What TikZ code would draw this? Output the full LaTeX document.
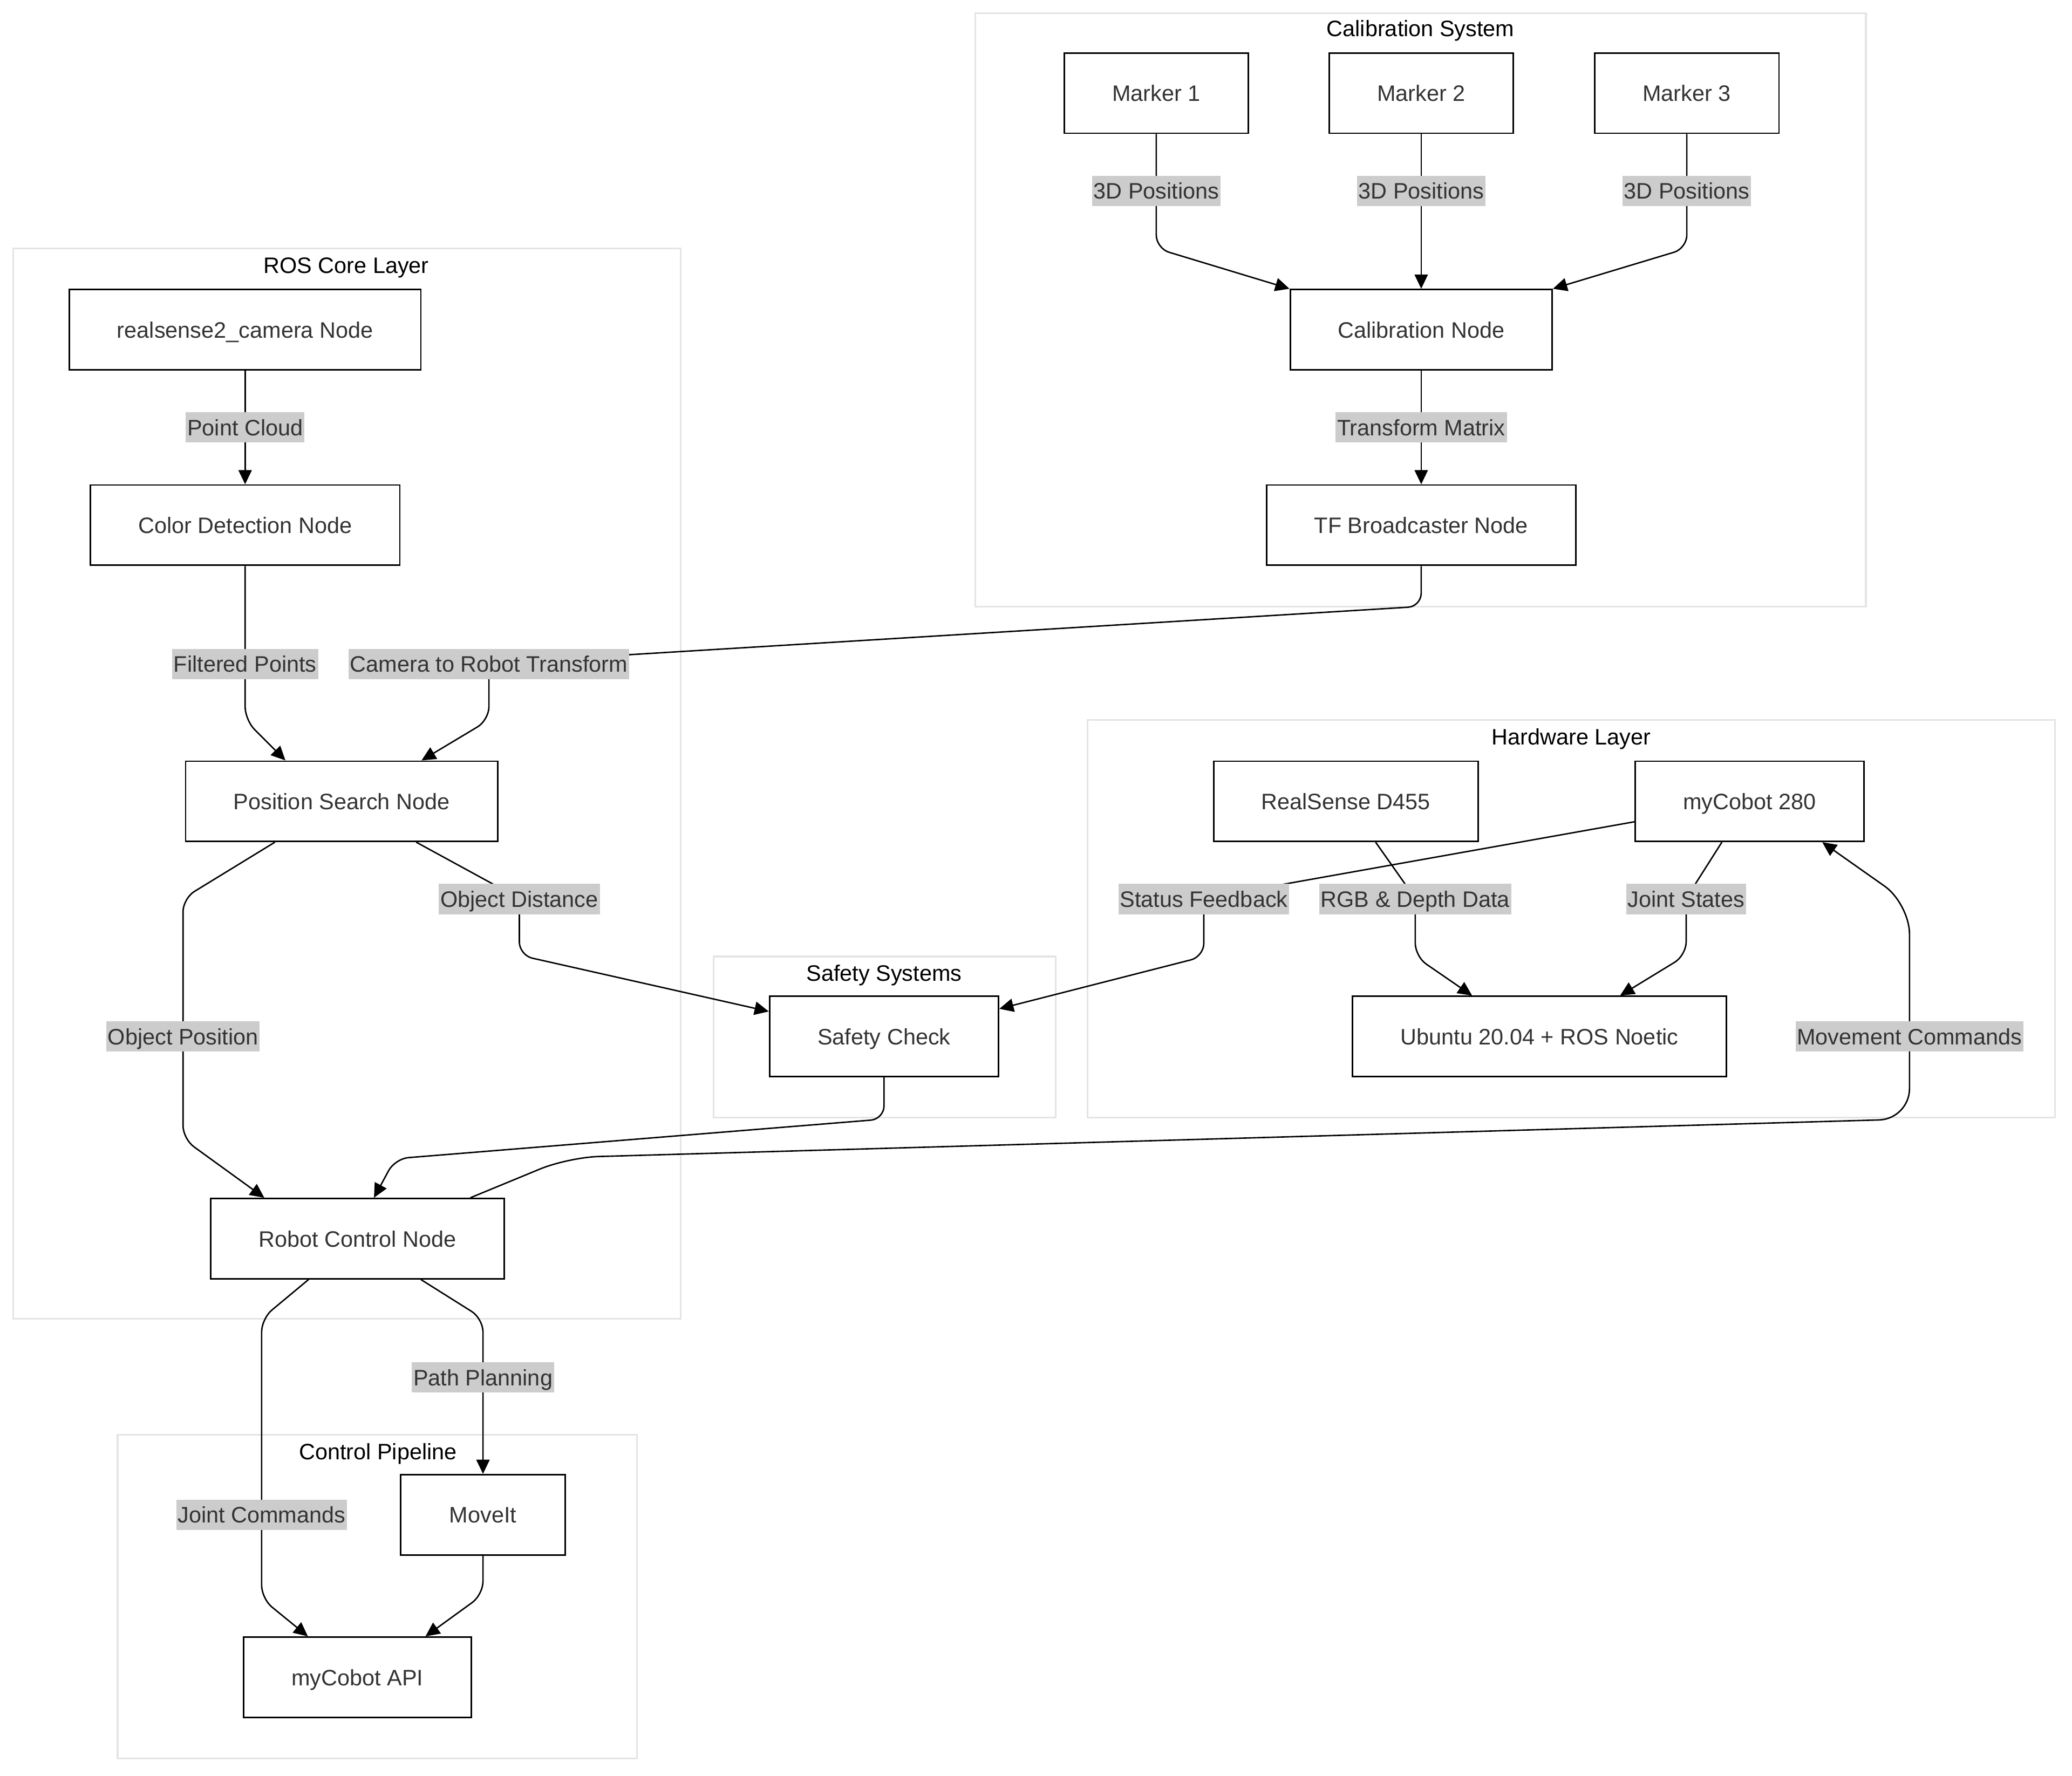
\documentclass[tikz,border=0pt]{standalone}
\usepackage{fontspec}
\setmainfont{Liberation Sans}
\usetikzlibrary{arrows.meta,calc}
\definecolor{txt}{HTML}{333333}
\definecolor{lblbg}{HTML}{CCCCCC}
\definecolor{clus}{HTML}{E4E4E4}
\tikzset{
  fnt/.style={font=\fontsize{11.8pt}{14pt}\selectfont, text height=9.8pt, text depth=1.2pt},
  box/.style={draw=black, line width=0.8pt, fill=white, fnt, text=txt, inner sep=0pt,
              minimum height=61*0.6945pt, minimum width=#1*0.6945pt},
  lbl/.style={fill=lblbg, fnt, text=txt, inner xsep=0.8pt, inner ysep=0pt,
              minimum height=16pt},
  ctitle/.style={fnt, text=black, inner sep=0pt},
  cluster/.style={draw=clus, line width=0.9pt},
  conn/.style={draw=black, line width=0.75pt, rounded corners=7pt},
  arr/.style={conn, -{Triangle[length=7.5pt,width=7pt]}}
}
\begin{document}
\begin{tikzpicture}[x=0.0245cm, y=-0.0245cm]
\path[use as bounding box, fill=white] (0,0) rectangle (1568,1344);

% clusters
\draw[cluster] (738,10) rectangle (1412,459);
\draw[cluster] (10,188) rectangle (515,998);
\draw[cluster] (540,724) rectangle (799,846);
\draw[cluster] (823,545) rectangle (1555,846);
\draw[cluster] (89,1086) rectangle (482,1331);
\node[ctitle] (tcal) at (1075,21.5) {Calibration System};
\node[ctitle] (tros) at (262,200.5) {ROS Core Layer};
\node[ctitle] (tsaf) at (669,736.5) {Safety Systems};
\node[ctitle] (thw) at (1189,557.5) {Hardware Layer};
\node[ctitle] (tcp) at (286,1098.5) {Control Pipeline};

% nodes
\node[box=140] (m1) at (875,70.5) {Marker 1};
\node[box=140] (m2) at (1075.5,70.5) {Marker 2};
\node[box=140] (m3) at (1276.5,70.5) {Marker 3};
\node[box=199] (cal) at (1075.5,249.5) {Calibration Node};
\node[box=235] (tf) at (1075.5,397.5) {TF Broadcaster Node};
\node[box=267] (rs) at (185.5,249.5) {realsense2\_camera Node};
\node[box=235] (cd) at (185.5,397.5) {Color Detection Node};
\node[box=237] (ps) at (258.5,606.5) {Position Search Node};
\node[box=223] (rc) at (270.5,937.5) {Robot Control Node};
\node[box=174] (sc) at (669,784.5) {Safety Check};
\node[box=201] (d455) at (1018.5,606.5) {RealSense D455};
\node[box=174] (mc) at (1324,606.5) {myCobot 280};
\node[box=284] (ub) at (1165,784.5) {Ubuntu 20.04 + ROS Noetic};
\node[box=125] (mv) at (365.5,1146.5) {MoveIt};
\node[box=173] (api) at (270.5,1269.5) {myCobot API};

% connectors
\draw[arr] (m1.south) -- (875,188) -- (cal.north west);
\draw[arr] (m2.south) -- (cal.north);
\draw[arr] (m3.south) -- (1276.5,188) -- (cal.north east);
\draw[arr] (cal.south) -- (tf.north);
\draw[arr] (rs.south) -- (cd.north);
\draw[arr] (cd.south) -- (185.5,545) -- ($(ps.north)+(-42.5,0)$);
\draw[arr] (tf.south) -- (1075.5,459) -- (370,502) -- (370,545) -- ($(ps.north)+(60.5,0)$);
\draw[arr] ($(ps.south)+(-50.5,0)$) -- (138.5,680) -- (138.5,862) -- ($(rc.north)+(-70.5,0)$);
\draw[arr] ($(ps.south)+(56.5,0)$) -- (393,680) -- (393,723) -- ($(sc.north west)+(0,12)$);
\draw[arr] (sc.south) -- (669,847) -- (299,877) -- ($(rc.north)+(12.5,0)$);
\draw[arr, rounded corners=16pt] ($(rc.north)+(85.5,0)$) -- (430,876) -- (1445,847) -- (1445,684) -- ($(mc.south)+(55,0)$);
\draw[arr] ($(mc.west)+(0,15.5)$) -- (911,680) -- (911,724) -- ($(sc.north east)+(0,10)$);
\draw[arr] ($(d455.south)+(22.5,0)$) -- (1071,680) -- (1071,724) -- ($(ub.north)+(-51,0)$);
\draw[arr] ($(mc.south)+(-21,0)$) -- (1276,680) -- (1276,723) -- ($(ub.north)+(61,0)$);
\draw[arr] ($(rc.south)+(48,0)$) -- (365.5,998) -- (mv.north);
\draw[arr] ($(rc.south)+(-37,0)$) -- (198,998) -- (198,1210) -- ($(api.north)+(-37.5,0)$);
\draw[arr] (mv.south) -- (365.5,1207) -- ($(api.north)+(51.5,0)$);

% edge labels
\node[lbl] (l1) at (875,144.5) {3D Positions};
\node[lbl] (l2) at (1075.5,144.5) {3D Positions};
\node[lbl] (l3) at (1276.5,144.5) {3D Positions};
\node[lbl] (l4) at (1075.5,323.5) {Transform Matrix};
\node[lbl] (l5) at (185.5,323.5) {Point Cloud};
\node[lbl] (l6) at (185.5,502.5) {Filtered Points};
\node[lbl] (l7) at (370,502.5) {Camera to Robot Transform};
\node[lbl] (l8) at (138.5,784.5) {Object Position};
\node[lbl] (l9) at (393,680.5) {Object Distance};
\node[lbl] (l10) at (911,680.5) {Status Feedback};
\node[lbl] (l11) at (1071,680.5) {RGB \& Depth Data};
\node[lbl] (l12) at (1276,680.5) {Joint States};
\node[lbl] (l13) at (1445,784.5) {Movement Commands};
\node[lbl] (l14) at (365.5,1042.5) {Path Planning};
\node[lbl] (l15) at (198,1146.5) {Joint Commands};
\end{tikzpicture}
\end{document}
